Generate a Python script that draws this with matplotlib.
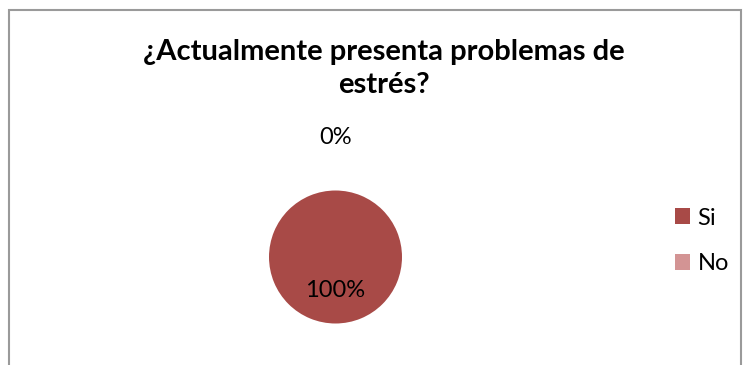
import matplotlib.pyplot as plt
import numpy as np

# --- Data ---
categories = ["Si", "No"]
values = [100, 0]
colors = ["#A84A47", "#D39494"]
title = "¿Actualmente presenta problemas de\nestrés?"

plt.rcParams['font.family'] = ['Lato', 'DejaVu Sans']

W, H = 744, 365
fig = plt.figure(figsize=(W / 100, H / 100), dpi=100)

# chart frame
frame = plt.Rectangle((9 / W, -0.1), (741 - 9) / W, (H - 10) / H + 0.1,
                      transform=fig.transFigure, fill=False,
                      edgecolor="#9A9A9A", linewidth=1.5)
fig.patches.append(frame)

# pie axes: centre (335.5, 257) px from top, radius 66.5 px
cx, cy, r = 335.5, H - 257, 66.5
side = 4 * r
ax = fig.add_axes([(cx - side / 2) / W, (cy - side / 2) / H, side / W, side / H])

wedges, _ = ax.pie(values, colors=colors, startangle=90, counterclock=False,
                   radius=1, wedgeprops=dict(linewidth=0))
# pie() sets its own limits, so override afterwards
ax.set_xlim(-2, 2)
ax.set_ylim(-2, 2)
ax.set_aspect("equal")
ax.axis("off")

total = sum(values)
for w, v in zip(wedges, values):
    ang = np.deg2rad((w.theta1 + w.theta2) / 2)
    dist = 0.5 if v > 0 else 1.8
    ax.text(dist * np.cos(ang), dist * np.sin(ang), f"{v / total * 100:.0f}%",
            ha="center", va="center", fontsize=17, color="black", clip_on=False)

fig.text(383.5 / W, 1 - 39 / H, title, ha="center", va="top",
         fontsize=21, fontweight="bold", linespacing=1.32)

fig.legend(wedges, categories, loc="center left",
           bbox_to_anchor=(675 / W, 1 - 241 / H), frameon=False,
           borderpad=0, borderaxespad=0,
           fontsize=17, handlelength=0.65, handleheight=0.65,
           handletextpad=0.3, labelspacing=1.05)

fig.savefig("out.png", dpi=100)
